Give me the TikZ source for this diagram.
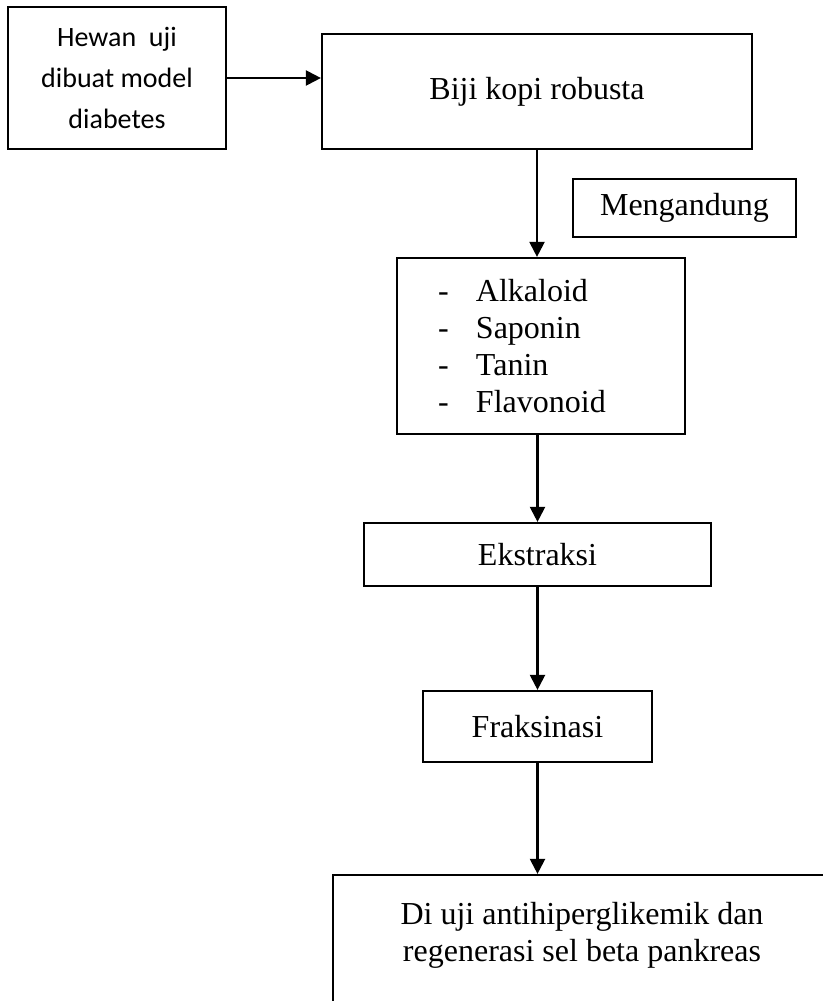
\documentclass[tikz,border=0pt]{standalone}
\usepackage{fontspec}
\setmainfont{Liberation Serif}
\newfontfamily\calibrifont{Carlito}
\usetikzlibrary{arrows.meta}

\def\unitpx{0.5pt}

\begin{document}
\begin{tikzpicture}[x=\unitpx, y=-\unitpx, line width=1.1pt, >={Triangle[length=7.5pt,width=7.5pt]}]
      \tikzstyle{box}=[rectangle, draw=black, inner sep=0pt, align=center, font=\fontsize{16}{18.5}\selectfont]
      \tikzstyle{sans box}=[box, font=\calibrifont\fontsize{14}{20.5}\selectfont]
      \tikzstyle{flow}=[->, draw=black]

      % Fix the page size
      \clip (0,0) rectangle (823,1001);

      % Draw the top row
      \node[sans box, minimum width=109pt, minimum height=71pt] (HEWAN) at (117,78) {Hewan\ \ uji\\dibuat model\\diabetes};
      \node[box, minimum width=215pt, minimum height=57.5pt] (KOPI) at (537,91.5) {Biji kopi robusta};
      \node[box, minimum width=111.5pt, minimum height=29pt] (KANDUNG) at (684.5,208) {Mengandung};

      % Draw the content list
      \node[box, minimum width=144pt, minimum height=88pt, text width=103pt, align=left] (SENYAWA) at (541,346)
          {\makebox[19pt][l]{-}Alkaloid\\\makebox[19pt][l]{-}Saponin\\\makebox[19pt][l]{-}Tanin\\\makebox[19pt][l]{-}Flavonoid};

      % Draw the process steps
      \node[box, minimum width=173.5pt, minimum height=31.5pt] (EKSTRAK) at (537.5,554.5) {Ekstraksi};
      \node[box, minimum width=114.5pt, minimum height=35.5pt] (FRAKSI) at (537.5,726.5) {Fraksinasi};
      \node[box, minimum width=249pt, minimum height=75pt] (UJI) at (582,950) {Di uji antihiperglikemik dan\\regenerasi sel beta pankreas\\\mbox{}};

      % Connect the steps
      \draw[flow] (HEWAN.east) -- (HEWAN.east -| KOPI.west);
      \draw[flow] (KOPI.south) -- (KOPI.south |- SENYAWA.north);
      \draw[flow] (SENYAWA.south -| EKSTRAK.north) -- (EKSTRAK.north);
      \draw[flow] (EKSTRAK.south) -- (FRAKSI.north);
      \draw[flow] (FRAKSI.south) -- (FRAKSI.south |- UJI.north);
\end{tikzpicture}
\end{document}
